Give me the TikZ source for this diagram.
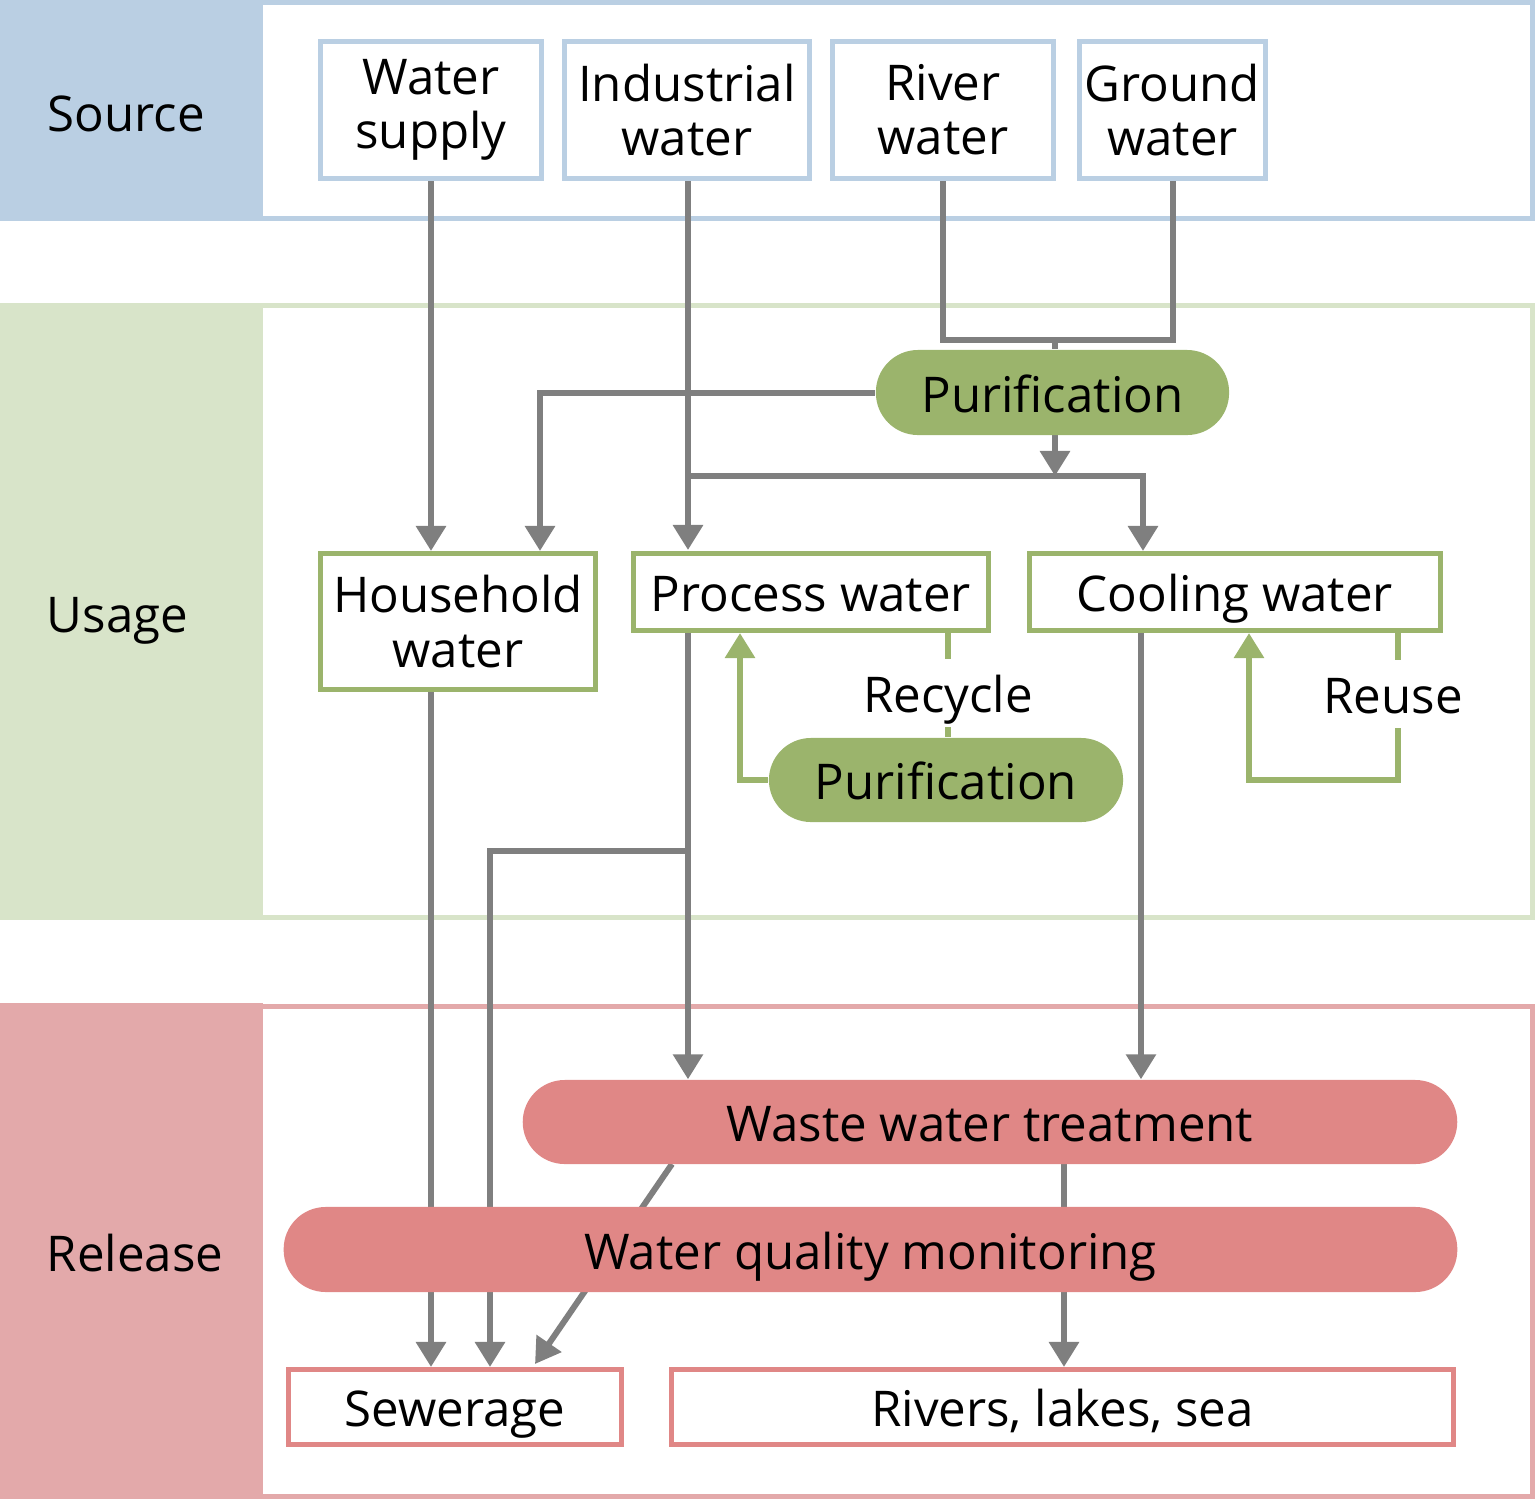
\documentclass[tikz,border=0pt]{standalone}
\usepackage{fontspec}
\setmainfont{Open Sans}
\usetikzlibrary{arrows.meta}
\definecolor{bandblue}{HTML}{BACFE3}
\definecolor{bandgreen}{HTML}{D8E4C9}
\definecolor{bandpink}{HTML}{E3A9AA}
\definecolor{nodegreen}{HTML}{9BB46C}
\definecolor{nodepink}{HTML}{E08786}
\definecolor{linegray}{HTML}{7F7F7F}
\pgfdeclarelayer{bands}
\pgfdeclarelayer{lines}
\pgfsetlayers{bands,lines,main}
\tikzset{
  lbl/.style={font=\fontsize{14}{15.4}\selectfont, inner sep=0pt},
  oneline/.style={text height=0.50cm, text depth=0.11cm},
  srcbox/.style={draw=bandblue, fill=white, line width=0.05cm, align=center, inner sep=0pt, lbl},
  usebox/.style={draw=nodegreen, fill=white, line width=0.05cm, align=center, inner sep=0pt, lbl},
  relbox/.style={draw=nodepink, fill=white, line width=0.05cm, align=center, inner sep=0pt, lbl},
  greenpill/.style={fill=nodegreen, rounded corners=0.42cm, inner sep=0pt, lbl, oneline},
  pinkpill/.style={fill=nodepink, rounded corners=0.42cm, inner sep=0pt, lbl, oneline},
  flow/.style={draw=linegray, line width=0.06cm, -{Triangle[width=0.29cm,length=0.25cm]}},
  flowplain/.style={draw=linegray, line width=0.06cm},
  gflow/.style={draw=nodegreen, line width=0.06cm, -{Triangle[width=0.29cm,length=0.25cm]}},
  gflowplain/.style={draw=nodegreen, line width=0.06cm},
  tag/.style={lbl, fill=white, inner sep=1pt}
}
\begin{document}
\begin{tikzpicture}[x=0.01cm, y=-0.01cm]
\useasboundingbox (0,0) rectangle (1535,1499);
% bands
\begin{pgfonlayer}{bands}
\fill[bandblue] (0,0) rectangle (263,220);
\draw[bandblue, line width=0.05cm] (2.5,2.5) rectangle (1532.5,218);
\fill[bandgreen] (0,303) rectangle (263,920);
\draw[bandgreen, line width=0.05cm] (2.5,305.5) rectangle (1532.5,917.5);
\fill[bandpink] (0,1003) rectangle (263,1499);
\draw[bandpink, line width=0.05cm] (2.5,1006.5) rectangle (1532.5,1496.5);
\end{pgfonlayer}
\node[lbl, oneline, anchor=west] (source) at (47,112) {Source};
\node[lbl, oneline, anchor=west] (usage) at (46,613) {Usage};
\node[lbl, oneline, anchor=west] (release) at (46,1252) {Release};
% source boxes
\node[srcbox, minimum width=2.21cm, minimum height=1.36cm] (ws) at (431,110) {Water\\supply};
\node[srcbox, minimum width=2.45cm, minimum height=1.36cm] (iw) at (687,110) {Industrial\\water};
\node[srcbox, minimum width=2.21cm, minimum height=1.36cm] (rw) at (943,110) {River\\water};
\node[srcbox, minimum width=1.86cm, minimum height=1.36cm] (gw) at (1172.5,110) {Ground\\water};
% usage
\node[greenpill, minimum width=3.53cm, minimum height=0.85cm] (pur1) at (1052.5,392.5) {Purification};
\node[usebox, minimum width=2.75cm, minimum height=1.36cm] (hh) at (458,621.5) {Household\\water};
\node[usebox, oneline, minimum width=3.55cm, minimum height=0.77cm] (pw) at (811,592) {Process water};
\node[usebox, oneline, minimum width=4.11cm, minimum height=0.77cm] (cw) at (1235,592) {Cooling water};
\node[greenpill, minimum width=3.54cm, minimum height=0.84cm] (pur2) at (946,780) {Purification};
% release
\node[pinkpill, minimum width=9.34cm, minimum height=0.84cm] (wwt) at (990,1122) {Waste water treatment};
\node[pinkpill, minimum width=11.73cm, minimum height=0.85cm] (wqm) at (870.5,1249.5) {Water quality monitoring};
\node[relbox, oneline, minimum width=3.33cm, minimum height=0.75cm] (sew) at (455,1407) {Sewerage};
\node[relbox, oneline, minimum width=7.82cm, minimum height=0.75cm] (riv) at (1062.5,1407) {Rivers, lakes, sea};
% connectors
\coordinate (jr) at (943,340);
\coordinate (jg) at (1172.5,340);
\coordinate (jp) at (1055,340);
\coordinate (pl) at (540,392.5);
\coordinate (hz1) at (688,476);
\coordinate (hz2) at (1143,476);
\coordinate (pa) at (1055,476);
\coordinate (br) at (688,851);
\coordinate (bl) at (490,851);
\coordinate (rcl) at (740,780);
\coordinate (ru1) at (1398,780);
\coordinate (ru2) at (1249,780);
\coordinate (dg) at (672,1164);
\coordinate (dgend) at (535,1364);
\coordinate (hhx) at (431,692);
\coordinate (wtx) at (1064,1164);
\coordinate (rcx) at (948,633);
\coordinate (cwx) at (1141,633);
\begin{pgfonlayer}{lines}
\draw[flow] (ws.south) -- (ws.south |- hh.north);
\draw[flow] (688,180) -- (688,550);
\draw[flowplain] (rw.south) -- (jr) -- (jg) -- (gw.south);
\draw[flowplain] (jp) -- (jp |- pur1.north);
\draw[flow] (pur1.west) -- (pl) -- (pl |- hh.north);
\draw[flow] (1055,434) -- (pa);
\draw[flow] (hz1) -- (hz2) -- (hz2 |- cw.north);
% recycle
\draw[gflowplain] (rcx) -- (rcx |- pur2.north);
\node[tag, oneline] (recycle) at (948,693) {Recycle};
\draw[gflow] (pur2.west) -- (rcl) -- (rcl |- pw.south);
% reuse
\draw[gflow] (ru1 |- cw.south) -- (ru1) -- (ru2) -- (ru2 |- cw.south);
\node[tag, oneline] (reuse) at (1393,694) {Reuse};
% to release
\draw[flow] (br |- pw.south) -- (br |- wwt.north);
\draw[flow] (br) -- (bl) -- (bl |- sew.north);
\draw[flow] (cwx) -- (cwx |- wwt.north);
\draw[flow] (hhx) -- (hhx |- sew.north);
\draw[flow] (wtx) -- (wtx |- riv.north);
\draw[flow] (dg) -- (dgend);
\end{pgfonlayer}
\end{tikzpicture}
\end{document}
